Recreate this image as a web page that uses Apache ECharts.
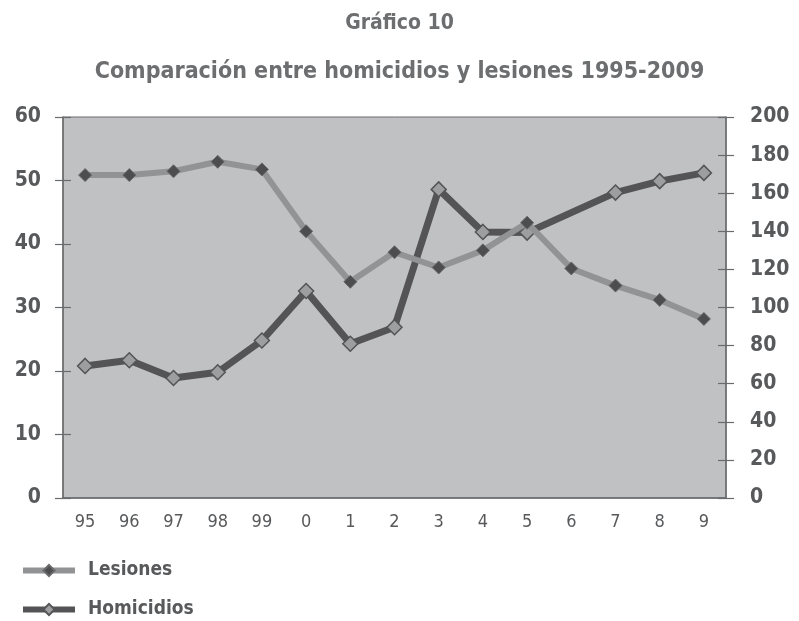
<!DOCTYPE html>
<html>
<head>
<meta charset="utf-8">
<script src="https://cdn.jsdelivr.net/npm/echarts@6/dist/echarts.min.js"></script>
<style>
  html, body { margin: 0; padding: 0; background: #fff; }
  #chart { width: 799px; height: 621px; }
</style>
</head>
<body>
<div id="chart"></div>
<script>
// Comparación entre homicidios y lesiones
var chart = echarts.init(document.getElementById("chart"));

var years = ['95', '96', '97', '98', '99', '0', '1', '2', '3', '4', '5', '6', '7', '8', '9'];
// eje derecho (0-200)
var lesiones = [169.5, 169.5, 171.5, 176.5, 172.5, 140, 113.5, 129, 121, 130, 144.5, 120.5, 111.5, 104, 94];
// eje izquierdo (0-60), 2006 sin punto en el gráfico
var homicidios = [20.8, 21.7, 18.9, 19.8, 24.8, 32.6, 24.3, 26.9, 48.6, 41.9, 41.8, null, 48.1, 49.9, 51.2];

var font = '"DejaVu Sans Condensed", "Liberation Sans Narrow", sans-serif';
var axisColor = '#6a6b6d';
var textColor = '#58595b';

// eje extra solo para dibujar las marcas hacia adentro
function innerY(pos, max, interval) {
    return {
        type: 'value', position: pos, min: 0, max: max, interval: interval,
        axisLine: { show: false },
        axisTick: { show: true, inside: true, length: 8, lineStyle: { color: axisColor, width: 1.2 } },
        axisLabel: { show: false },
        splitLine: { show: false }
    };
}

// una leyenda por serie, una debajo de otra
function legendItem(name, top) {
    return {
        left: 20,
        top: top,
        padding: 0,
        itemWidth: 52,
        itemHeight: 14,
        data: [name],
        lineStyle: { width: 6 },
        textStyle: { color: textColor, fontSize: 19, fontWeight: 'bold', fontFamily: font, padding: [0, 0, 0, 8] }
    };
}

var option = {
    backgroundColor: '#ffffff',
    title: [
        {
            text: 'Gráfico 10',
            left: 'center',
            top: 8,
            textStyle: { color: '#6d6e70', fontSize: 21, fontWeight: 'bold', fontFamily: font }
        },
        {
            text: 'Comparación entre homicidios y lesiones 1995-2009',
            left: 'center',
            top: 56,
            textStyle: { color: '#6d6e70', fontSize: 23, fontWeight: 'bold', fontFamily: font }
        }
    ],
    legend: [
        legendItem('Lesiones', 561),
        legendItem('Homicidios', 600)
    ],
    grid: {
        left: 63,
        right: 73,
        top: 117,
        bottom: 123,
        show: true,
        backgroundColor: '#c0c1c3',
        borderColor: axisColor,
        borderWidth: 1
    },
    xAxis: [
        {
            type: 'category',
            data: years,
            axisLine: { lineStyle: { color: axisColor, width: 1.5 } },
            axisTick: { length: 8, lineStyle: { color: axisColor, width: 1.2 } },
            axisLabel: { color: textColor, fontSize: 18, fontFamily: font, margin: 15 }
        },
        {
            type: 'category',
            data: years,
            position: 'bottom',
            axisLine: { show: false },
            axisTick: { inside: true, length: 8, lineStyle: { color: axisColor, width: 1.2 } },
            axisLabel: { show: false }
        }
    ],
    yAxis: [
        {
            type: 'value',
            min: 0,
            max: 60,
            interval: 10,
            position: 'left',
            axisLine: { show: true, lineStyle: { color: axisColor, width: 1.5 } },
            axisTick: { show: true, length: 8, lineStyle: { color: axisColor, width: 1.2 } },
            axisLabel: { color: textColor, fontSize: 21, fontWeight: 'bold', fontFamily: font, margin: 22 },
            splitLine: { show: false }
        },
        {
            type: 'value',
            min: 0,
            max: 200,
            interval: 20,
            position: 'right',
            axisLine: { show: true, lineStyle: { color: axisColor, width: 1.5 } },
            axisTick: { show: true, length: 8, lineStyle: { color: axisColor, width: 1.2 } },
            axisLabel: { color: textColor, fontSize: 21, fontWeight: 'bold', fontFamily: font, margin: 24 },
            splitLine: { show: false }
        },
        innerY('left', 60, 10),
        innerY('right', 200, 20)
    ],
    series: [
        {
            name: 'Lesiones',
            type: 'line',
            yAxisIndex: 1,
            data: lesiones,
            symbol: 'diamond',
            symbolSize: 13,
            lineStyle: { color: '#929395', width: 6 },
            itemStyle: { color: '#4d4d4f', borderColor: '#6a6a6c', borderWidth: 1 },
            z: 3
        },
        {
            name: 'Homicidios',
            type: 'line',
            yAxisIndex: 0,
            data: homicidios,
            connectNulls: true,
            symbol: 'diamond',
            symbolSize: 15,
            lineStyle: { color: '#545456', width: 7 },
            itemStyle: { color: '#9d9ea0', borderColor: '#545456', borderWidth: 1.5 },
            z: 2
        }
    ]
};

chart.setOption(option);
</script>
</body>
</html>
